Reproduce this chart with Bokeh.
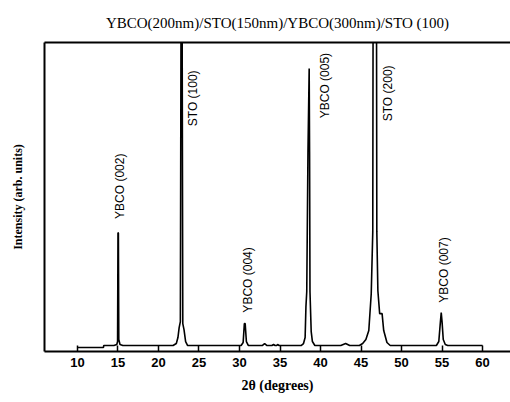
from bokeh.plotting import figure
from bokeh.models import Range1d, FixedTicker, LinearAxis, ColumnDataSource
from bokeh.core.properties import value
from bokeh.embed import file_html
from bokeh.resources import INLINE
import math

title_text = "YBCO(200nm)/STO(150nm)/YBCO(300nm)/STO (100)"
x_label = "2θ (degrees)"
y_label = "Intensity (arb. units)"
x_ticks = [10, 15, 20, 25, 30, 35, 40, 45, 50, 55, 60]

# digitized pattern (2theta in degrees, intensity in arbitrary units)
two_theta = [10.0, 13.2, 13.25, 14.5, 14.85, 14.95, 15.0, 15.05, 15.1, 15.25, 15.6,
             20.0, 21.8, 22.2, 22.4, 22.55, 22.7, 22.8, 22.9, 23.0, 23.15, 23.35, 23.6,
             30.2, 30.45, 30.6, 30.7, 30.85, 31.1,
             32.8, 33.1, 33.4, 34.0, 34.2, 34.4, 34.6, 34.7, 34.9,
             37.6, 37.9, 38.1, 38.2, 38.3, 38.45, 38.6, 38.65, 38.7, 38.85, 39.0, 39.3,
             42.5, 43.1, 43.6, 44.8, 45.2, 45.6, 45.96, 46.26, 46.45, 46.5, 46.9, 46.95,
             47.08, 47.3, 47.6, 47.8, 48.2, 48.6,
             54.3, 54.6, 54.8, 54.9, 55.0, 55.15, 55.4, 55.7, 60.0]
intensity = [4, 4, 6, 6, 7, 10, 119, 119, 12, 7, 6,
             6, 6, 8, 14, 24, 30, 400, 400, 28, 22, 10, 6,
             6, 9, 28, 28, 10, 6,
             6, 8, 6, 6, 7, 6, 6, 7, 6,
             6, 8, 14, 45, 60, 200, 284, 200, 60, 20, 10, 6,
             6, 8, 6, 6, 8, 12, 21, 58, 120, 400, 400, 120,
             61, 38, 38, 21, 9, 6,
             6, 10, 30, 39, 30, 12, 7, 6, 6]

peak_names = ["YBCO (002)", "STO (100)", "YBCO (004)", "YBCO (005)", "STO (200)", "YBCO (007)"]
peak_label_x = [15.19, 24.2, 31.0, 40.5, 48.3, 55.2]
peak_label_y = [133, 226, 39, 234, 231, 49]

p = figure(width=510, height=402, output_backend="svg", toolbar_location=None,
           x_range=Range1d(5.93, 63.45), y_range=Range1d(0, 310),
           min_border_left=44, min_border_right=0, min_border_top=41, min_border_bottom=51,
           title=title_text)
p.outline_line_color = None
p.background_fill_color = "white"
p.border_fill_color = "white"
p.xgrid.visible = False
p.ygrid.visible = False

p.title.text_font = "Liberation Serif"
p.title.text_font_size = "15px"
p.title.text_font_style = "normal"
p.title.align = "center"
p.title.text_color = "black"
p.title.standoff = 24

src = ColumnDataSource(dict(x=two_theta, y=intensity))
p.line("x", "y", source=src, line_color="black", line_width=1.6)

lab = ColumnDataSource(dict(x=peak_label_x, y=peak_label_y, t=peak_names))
p.text("x", "y", text="t", source=lab, angle=math.pi / 2,
       text_align="left", text_baseline="middle",
       text_font=value("Liberation Sans"), text_font_size="12px", text_color="black")

xa = p.xaxis[0]
xa.ticker = FixedTicker(ticks=x_ticks)
xa.axis_line_width = 2
xa.axis_line_color = "black"
xa.major_tick_in = 6
xa.major_tick_out = 0
xa.major_tick_line_width = 1.5
xa.major_tick_line_color = "black"
xa.minor_tick_line_color = None
xa.major_label_text_font = "Liberation Sans"
xa.major_label_text_font_style = "bold"
xa.major_label_text_font_size = "13px"
xa.major_label_text_color = "black"
xa.major_label_standoff = 6
xa.axis_label = x_label
xa.axis_label_text_font = "Liberation Serif"
xa.axis_label_text_font_style = "bold"
xa.axis_label_text_font_size = "14px"
xa.axis_label_text_color = "black"
xa.axis_label_standoff = 8

ya = p.yaxis[0]
ya.ticker = FixedTicker(ticks=[])
ya.axis_line_width = 2
ya.axis_line_color = "black"
ya.major_tick_line_color = None
ya.minor_tick_line_color = None
ya.major_label_text_font_size = "0px"
ya.axis_label = y_label
ya.axis_label_text_font = "Liberation Serif"
ya.axis_label_text_font_style = "bold"
ya.axis_label_text_font_size = "12px"
ya.axis_label_text_color = "black"
ya.axis_label_standoff = 20

top = LinearAxis(ticker=FixedTicker(ticks=[]), axis_line_width=2, axis_line_color="black",
                 major_tick_line_color=None, minor_tick_line_color=None,
                 major_label_text_font_size="0px")
p.add_layout(top, "above")

open("out.html", "w").write(file_html(p, INLINE))
